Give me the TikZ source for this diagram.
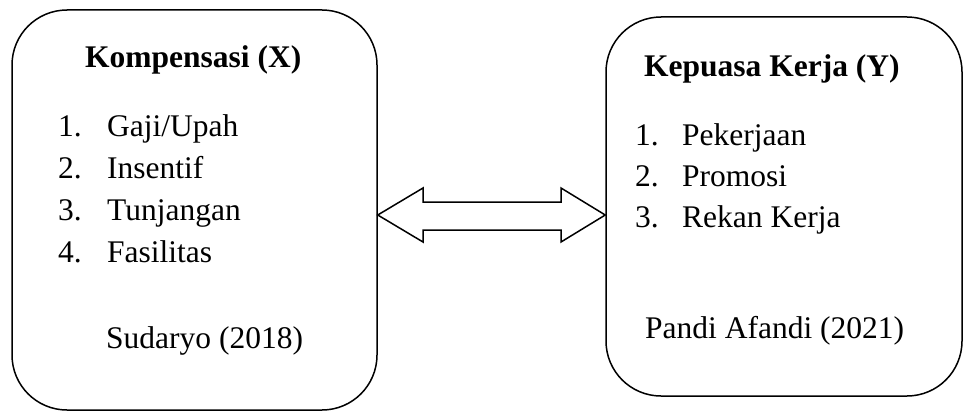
\documentclass[tikz,border=0pt]{standalone}
\usepackage{fontspec}
\setmainfont{Liberation Serif}
\begin{document}
\begin{tikzpicture}[x=1pt,y=-1pt,
  roundbox/.style={draw,line width=1.5pt,rounded corners=55pt,rectangle,inner sep=0pt},
  txt/.style={anchor=base west,inner sep=0pt,font=\fontsize{31.5}{38}\selectfont},
  ttl/.style={txt,font=\fontsize{31.5}{38}\selectfont\bfseries},
  arrowshape/.style={draw,line width=1.5pt,fill=white,line join=miter}]
\useasboundingbox (0,0) rectangle (963,412);
\node[roundbox,minimum width=365pt,minimum height=400pt] (L) at (194.5,210) {};
\node[roundbox,minimum width=356pt,minimum height=379pt] (R) at (784,206.5) {};
% left content
\node[ttl] (lt) at (85,67) {Kompensasi (X)};
\node[txt] (l1) at (58,136) {\makebox[49pt][l]{1.}Gaji/Upah};
\node[txt] (l2) at (58,178) {\makebox[49pt][l]{2.}Insentif};
\node[txt] (l3) at (58,220) {\makebox[49pt][l]{3.}Tunjangan};
\node[txt] (l4) at (58,262) {\makebox[49pt][l]{4.}Fasilitas};
\node[txt] (ls) at (106,348) {Sudaryo (2018)};
% right content
\node[ttl] (rt) at (644,77) {Kepuasa Kerja (Y)};
\node[txt] (r1) at (635,145) {\makebox[47pt][l]{1.}Pekerjaan};
\node[txt] (r2) at (635,186) {\makebox[47pt][l]{2.}Promosi};
\node[txt] (r3) at (635,227) {\makebox[47pt][l]{3.}Rekan Kerja};
\node[txt] (rs) at (645,338) {Pandi Afandi (2021)};
% double block arrow between the two boxes
\draw[arrowshape] (L.east |- 0,215) -- (423,188) -- (423,202) -- (561,202) -- (561,188)
  -- (R.west |- 0,215) -- (561,242) -- (561,230) -- (423,230) -- (423,242) -- cycle;
\end{tikzpicture}
\end{document}
